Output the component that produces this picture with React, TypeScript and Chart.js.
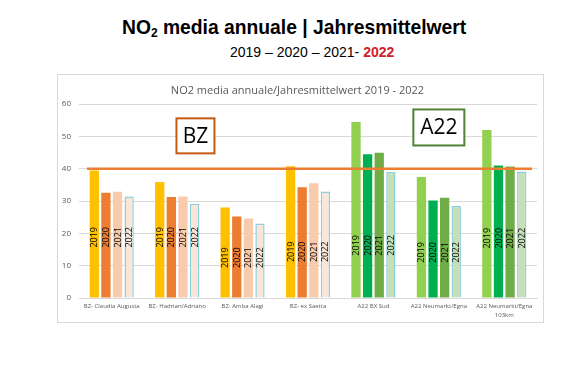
import React, { useEffect, useRef } from "react";
import { Chart, registerables } from "chart.js";

Chart.register(...registerables);

const stations: (string | string[])[] = [
  "BZ- Claudia Augusta",
  "BZ- Hadrian/Adriano",
  "BZ- Amba Alagi",
  "BZ- ex Saetta",
  "A22 BX Sud",
  "A22 Neumarkt/Egna",
  ["A22 Neumarkt/Egna", "103km"],
];
const years = ["2019", "2020", "2021", "2022"];
const v2019 = [39.5, 35.9, 28.0, 40.8, 54.5, 37.5, 52.0];
const v2020 = [32.6, 31.3, 25.2, 34.3, 44.5, 30.2, 41.0];
const v2021 = [32.9, 31.4, 24.6, 35.5, 45.0, 31.0, 40.7];
const v2022 = [31.4, 29.2, 23.1, 33.0, 39.0, 28.5, 39.2];
const labelAt = [18.8, 18.8, 12.5, 14.3, 16.3, 14.1, 18.5];
const limitValue = 40;
const yTicks = [0, 10, 20, 30, 40, 50, 60];
const groupBoxes = [
  { text: "BZ", at: 1.28, value: 50.2, color: "#C55A11", w: 38, h: 35 },
  { text: "A22", at: 5, value: 52.8, color: "#548235", w: 51, h: 36 },
];

const bzColors = ["#FFC000", "#ED7D31", "#F8CBAD", "#FBE5D6"];
const a22Colors = ["#92D050", "#00B050", "#70AD47", "#C5E0B4"];
const isBZ = stations.map((s) => (Array.isArray(s) ? s[0] : s).startsWith("BZ"));

const overlay = {
  id: "overlay",
  afterDatasetsDraw(chart: any) {
    const { ctx, chartArea, scales } = chart;
    const x = scales.x;
    const y = scales.y;
    ctx.save();
    ctx.fillStyle = "#000";
    ctx.font = "9px 'Open Sans'";
    ctx.textAlign = "center";
    ctx.textBaseline = "middle";
    chart.data.datasets.forEach((ds: any, i: number) => {
      const meta = chart.getDatasetMeta(i);
      meta.data.forEach((bar: any, j: number) => {
        ctx.save();
        ctx.translate(bar.x + 0.5, y.getPixelForValue(labelAt[j]));
        ctx.rotate(-Math.PI / 2);
        ctx.fillText(years[i], 0, 0);
        ctx.restore();
      });
    });
    const ly = y.getPixelForValue(limitValue);
    ctx.strokeStyle = "#ED7D31";
    ctx.lineWidth = 2.5;
    ctx.beginPath();
    ctx.moveTo(chartArea.left + 8, ly);
    ctx.lineTo(chartArea.right - 5, ly);
    ctx.stroke();
    const p0 = x.getPixelForValue(0);
    const p1 = x.getPixelForValue(1);
    groupBoxes.forEach((b) => {
      const cx = p0 + (p1 - p0) * b.at;
      const cy = y.getPixelForValue(b.value);
      ctx.fillStyle = "#fff";
      ctx.fillRect(cx - b.w / 2, cy - b.h / 2, b.w, b.h);
      ctx.strokeStyle = b.color;
      ctx.lineWidth = 2;
      ctx.strokeRect(cx - b.w / 2, cy - b.h / 2, b.w, b.h);
      ctx.fillStyle = "#000";
      ctx.font = "21px 'Open Sans'";
      ctx.textAlign = "center";
      ctx.textBaseline = "middle";
      ctx.fillText(b.text, cx, cy + 1);
    });
    ctx.restore();
  },
};

export default function App() {
  const ref = useRef<HTMLCanvasElement>(null);
  useEffect(() => {
    const series = [v2019, v2020, v2021, v2022];
    const chart = new Chart(ref.current!, {
      type: "bar",
      data: {
        labels: stations,
        datasets: series.map((vals, i) => ({
          label: years[i],
          data: vals,
          backgroundColor: vals.map((_, j) => (isBZ[j] ? bzColors[i] : a22Colors[i])),
          borderColor: i === 3 ? "#8CCFDF" : "transparent",
          borderWidth: i === 3 ? 1.5 : 0,
          barPercentage: 0.8,
          categoryPercentage: 0.71,
        })),
      },
      options: {
        animation: false,
        responsive: false,
        maintainAspectRatio: false,
        layout: { padding: { left: 0, right: 6, top: 0, bottom: 0 } },
        plugins: {
          legend: { display: false },
          tooltip: { enabled: false },
          title: {
            display: true,
            text: "NO2 media annuale/Jahresmittelwert 2019 - 2022",
            color: "#595959",
            font: { family: "'Open Sans'", size: 11, weight: "normal" },
            padding: { top: 9, bottom: 7 },
          },
        },
        scales: {
          x: {
            grid: { display: false, drawTicks: false },
            border: { color: "#D9D9D9" },
            ticks: {
              color: "#595959",
              font: { family: "'Open Sans'", size: 6, lineHeight: 1.5 },
              maxRotation: 0,
              autoSkip: false,
              padding: 4,
            },
            afterFit: (s: any) => {
              s.height = 24;
            },
          },
          y: {
            min: 0,
            max: 60,
            afterBuildTicks: (s: any) => {
              s.ticks = yTicks.map((v) => ({ value: v }));
            },
            grid: { color: "#D9D9D9", drawTicks: false },
            border: { display: false },
            ticks: {
              color: "#595959",
              font: { family: "'Open Sans'", size: 8 },
              padding: 8,
            },
            afterFit: (s: any) => {
              s.width = 21;
            },
          },
        },
      },
      plugins: [overlay],
    });
    return () => chart.destroy();
  }, []);

  return (
    <div
      style={{
        position: "absolute",
        left: 0,
        top: 0,
        width: 562,
        height: 374,
        background: "#fff",
        fontFamily: "'Liberation Sans', Arial, sans-serif",
      }}
    >
      <div
        style={{
          position: "absolute",
          left: 122,
          top: 16,
          fontSize: 19.3,
          lineHeight: "23px",
          fontWeight: "bold",
          whiteSpace: "nowrap",
          color: "#000",
        }}
      >
        NO<sub style={{ fontSize: 12, verticalAlign: "-3px" }}>2</sub> media annuale | Jahresmittelwert
      </div>
      <div
        style={{
          position: "absolute",
          left: 230,
          top: 43,
          fontSize: 14,
          lineHeight: "18px",
          whiteSpace: "nowrap",
          color: "#000",
        }}
      >
        2019 – 2020 – 2021- <span style={{ color: "#D0202A", fontWeight: "bold" }}>2022</span>
      </div>
      <div
        style={{
          position: "absolute",
          left: 57,
          top: 74,
          width: 487,
          height: 249,
          boxSizing: "border-box",
          border: "1px solid #D9D9D9",
        }}
      >
        <canvas ref={ref} width={485} height={247} style={{ display: "block" }} />
      </div>
    </div>
  );
}
